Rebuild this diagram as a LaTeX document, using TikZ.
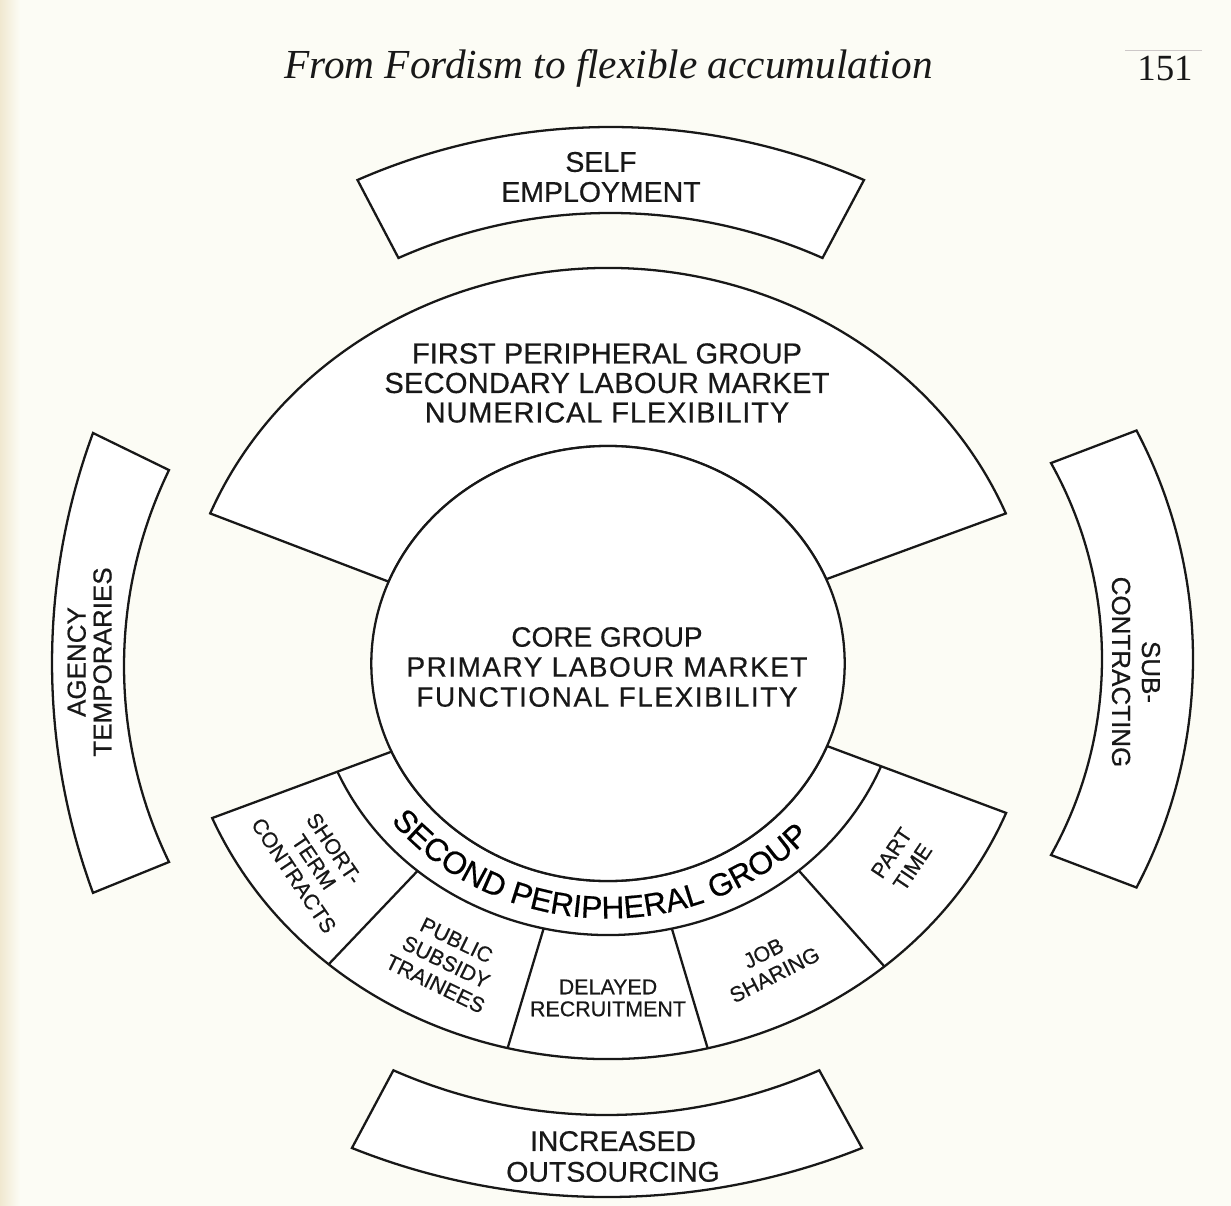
\documentclass[tikz,border=0pt]{standalone}
\usepackage{fontspec}
\usetikzlibrary{decorations.text}
\newfontfamily\dsf[FakeBold=0.5]{Liberation Sans}
\newfontfamily\hdf{Liberation Serif}
\newcommand\fsz[2]{\fontsize{#1}{#2}\selectfont}
\newcommand\lsp[2]{{\addfontfeature{LetterSpace=#1}#2}}
\newcommand\ringfont{\dsf\fsz{18}{20}}
\definecolor{pagecol}{RGB}{252,252,245}
\definecolor{gutter}{RGB}{240,232,208}
\definecolor{ink}{RGB}{24,24,24}
\definecolor{rulegray}{RGB}{205,200,200}
\begin{document}
\begin{tikzpicture}[x=0.02cm, y=-0.02cm,
  boxline/.style={draw=ink, line width=1.3pt, fill=white},
  divline/.style={draw=ink, line width=1.3pt},
  lbl/.style={text=ink, align=center, inner sep=0pt},
]
\useasboundingbox (0,0) rectangle (1231,1206);
\fill[pagecol] (0,0) rectangle (1231,1206);
\shade[left color=gutter, right color=pagecol] (0,0) rectangle (20,1206);

% header
\node[lbl, anchor=base, font=\hdf\itshape\fsz{23.5}{27}] (title) at (608.5,79) {From Fordism to flexible accumulation};
\node[lbl, anchor=base, font=\hdf\fsz{21}{25}] (pagenum) at (1165,81) {151};
\coordinate (ruleA) at (1125,50.5);
\coordinate (ruleB) at (1202,50.5);
\draw[rulegray, line width=0.8pt] (ruleA) -- (ruleB);

% outer boxes
\path[boxline] (357.5,180) arc[start angle=246.36, end angle=293.64, radius=631.6]
  -- (822.5,258) arc[start angle=293.97, end angle=246.03, radius=521.9] -- cycle;
\path[boxline] (393.4,1070.3) arc[start angle=113.71, end angle=66.29, radius=529.6]
  -- (862,1148) arc[start angle=68.24, end angle=111.76, radius=688] -- cycle;
\path[boxline] (93,433) arc[start angle=200.21, end angle=159.79, radius=665.6]
  -- (169,862) arc[start angle=154.14, end angle=205.86, radius=449.3] -- cycle;
\path[boxline] (1136.5,430.5) arc[start angle=-27.78, end angle=27.78, radius=490.3]
  -- (1051,855) arc[start angle=29.17, end angle=-29.17, radius=402.1] -- cycle;

% main rings
\begin{scope}[shift={(608,663.5)}]
  \path[boxline] (-157.9:236.7 and 217.5) -- (-157.7:430 and 395.5)
    arc[start angle=-157.7, end angle=-22.3, x radius=430, y radius=395.5]
    -- (-22.8:236.7 and 217.5)
    arc[start angle=-22.8, end angle=-157.9, x radius=236.7, y radius=217.5] -- cycle;
  \path[boxline] (156.1:236.7 and 217.5) -- (157:430 and 395.5)
    arc[start angle=157, end angle=22.2, x radius=430, y radius=395.5]
    -- (22.3:236.7 and 217.5)
    arc[start angle=22.3, end angle=156.1, x radius=236.7, y radius=217.5] -- cycle;
  \path[boxline] (0,0) ellipse [x radius=236.7, y radius=217.5];
  \path[divline] (156.5:295 and 271.5) arc[start angle=156.5, end angle=22.2, x radius=295, y radius=271.5];
  \foreach \a/\b in {130.2/130.5, 102.6/103.5, 77.5/76.6, 49.7/50}
    \path[divline] (\a:295 and 271.5) -- (\b:430 and 395.5);
  \path[decorate, decoration={text along path, text align=center,
      text={|\ringfont|SECOND PERIPHERAL GROUP}}]
    (164.4:276 and 255) arc[start angle=164.4, end angle=20.4, x radius=276, y radius=255];
\end{scope}

% labels
\node[lbl, font=\dsf\fsz{15.93}{17.07}] (core) at (607,667)
  {CORE GROUP\\\lsp{5.3}{PRIMARY LABOUR MARKET}\\\lsp{5.6}{FUNCTIONAL FLEXIBILITY}};
\node[lbl, font=\dsf\fsz{16.5}{16.8}] (fpg) at (607,383)
  {FIRST PERIPHERAL GROUP\\\lsp{1}{SECONDARY LABOUR MARKET}\\\lsp{3}{NUMERICAL FLEXIBILITY}};
\node[lbl, font=\dsf\fsz{16.2}{17.07}] (self) at (601,177) {SELF\\EMPLOYMENT};
\node[lbl, font=\dsf\fsz{16.2}{17.5}] (outs) at (613,1156.5) {INCREASED\\OUTSOURCING};
\node[lbl, rotate=90, font=\dsf\fsz{14.8}{14.7}] (agency) at (89.6,662) {AGENCY\\TEMPORARIES};
\node[lbl, rotate=-90, font=\dsf\fsz{14.8}{17}] (subc) at (1136,672) {SUB-\\CONTRACTING};
\node[lbl, rotate=-56, font=\dsf\fsz{12.2}{13.8}] (short) at (314,862) {SHORT-\\TERM\\CONTRACTS};
\node[lbl, rotate=-26, font=\dsf\fsz{12.2}{13.8}] (public) at (446,962) {PUBLIC\\SUBSIDY\\TRAINEES};
\node[lbl, font=\dsf\fsz{12.2}{12.5}] (delayed) at (608,998) {DELAYED\\RECRUITMENT};
\node[lbl, rotate=27, font=\dsf\fsz{12.2}{13.8}] (job) at (769,964) {JOB\\SHARING};
\node[lbl, rotate=56, font=\dsf\fsz{12.2}{14.5}] (part) at (902,860) {PART\\TIME};
\end{tikzpicture}
\end{document}
